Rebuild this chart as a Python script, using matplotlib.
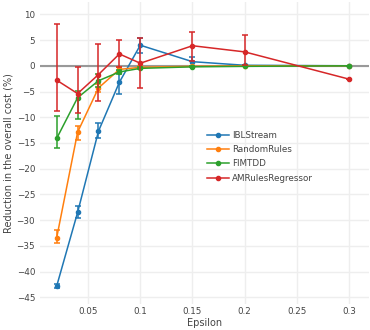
import numpy as np
import matplotlib.pyplot as plt
from matplotlib.lines import Line2D

# epsilon values and reduction in overall cost (%), with lower/upper error
eps = [0.02, 0.04, 0.06, 0.08, 0.1, 0.15, 0.2, 0.3]

ibl = [-42.8, -28.5, -12.7, -3.2, 4.0, 0.8, 0.1, 0.0]
ibl_lo = [0.3, 1.1, 1.4, 2.3, 1.5, 0.8, 0.1, 0.0]
ibl_up = [0.3, 1.3, 1.6, 2.1, 1.4, 1.0, 0.1, 0.0]

rr = [-33.4, -12.9, -4.3, -0.7, -0.3, -0.1, 0.0, 0.0]
rr_lo = [1.0, 1.5, 0.8, 0.5, 0.2, 0.1, 0.0, 0.0]
rr_up = [1.4, 1.2, 0.8, 0.5, 0.2, 0.1, 0.0, 0.0]

fim = [-14.1, -6.2, -2.9, -1.2, -0.5, -0.2, -0.1, 0.0]
fim_lo = [1.9, 4.2, 1.3, 0.4, 0.2, 0.1, 0.0, 0.0]
fim_up = [4.4, 1.3, 1.3, 0.4, 0.2, 0.1, 0.0, 0.0]

amr = [-2.8, -5.4, -1.7, 2.3, 0.5, 3.9, 2.7, -2.6]
amr_lo = [5.9, 3.8, 5.1, 2.55, 4.9, 3.0, 2.5, 0.0]
amr_up = [10.9, 5.1, 6.0, 2.8, 4.9, 2.6, 3.2, 0.0]

names = ['IBLStream', 'RandomRules', 'FIMTDD', 'AMRulesRegressor']
colors = ['#1f77b4', '#ff7f0e', '#2ca02c', '#d62728']
series = [(ibl, ibl_lo, ibl_up), (rr, rr_lo, rr_up),
          (fim, fim_lo, fim_up), (amr, amr_lo, amr_up)]

plt.rcParams['font.family'] = ['DejaVu Sans']
fig = plt.figure(figsize=(3.7, 3.3), dpi=100)
ax = fig.add_axes([40 / 370, 26 / 330, 329 / 370, 302 / 330])

for i, (vals, lo, up) in enumerate(series):
    ax.errorbar(eps, vals, yerr=[lo, up], color=colors[i], lw=1.1,
                marker='o', ms=3, elinewidth=1.1, capsize=2.5, capthick=1.1,
                zorder=3 + i)

ax.axhline(0, color='#999999', lw=1.5, zorder=2)
ax.set_xlim(0.004, 0.319)
ax.set_ylim(-46.3, 12.4)
ax.set_xticks([0.05, 0.1, 0.15, 0.2, 0.25, 0.3])
ax.set_xticklabels(['0.05', '0.1', '0.15', '0.2', '0.25', '0.3'])
ax.set_yticks(np.arange(-45, 11, 5))
ax.set_yticklabels(['\u221245', '\u221240', '\u221235', '\u221230', '\u221225',
                    '\u221220', '\u221215', '\u221210', '\u22125', '0', '5', '10'])
ax.grid(True, color='#eeeeee', lw=1)
ax.set_axisbelow(True)
for s in ax.spines.values():
    s.set_visible(False)
ax.tick_params(length=0, labelsize=6.3, labelcolor='#444444')
ax.tick_params(axis='y', pad=3.5)
ax.tick_params(axis='x', pad=2)
ax.set_xlabel('Epsilon', fontsize=7, color='#444444', labelpad=1.5)
ax.set_ylabel('Reduction in the overall cost (%)', fontsize=7,
              color='#444444', labelpad=2)

handles = [Line2D([], [], color=c, lw=1.1, marker='o', ms=3) for c in colors]
ax.legend(handles, names, loc='upper left', frameon=False, numpoints=1,
          fontsize=6.3, labelcolor='#444444', handlelength=2.5,
          handletextpad=0.4, labelspacing=0.6, borderpad=0, borderaxespad=0,
          bbox_to_anchor=(207 / 370, 1 - 131 / 330),
          bbox_transform=fig.transFigure)

fig.savefig('out.png', dpi=100)
